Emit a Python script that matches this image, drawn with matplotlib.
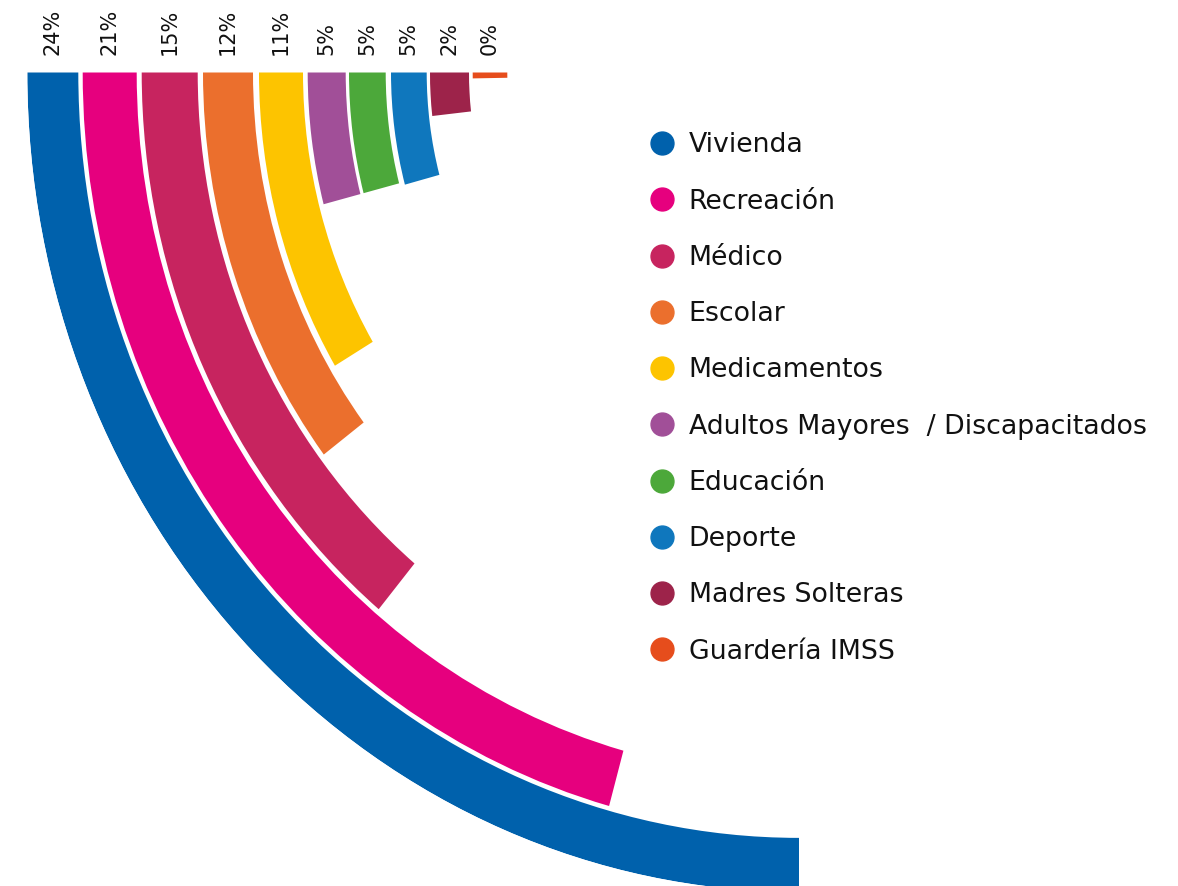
import numpy as np
import matplotlib
matplotlib.use("Agg")
import matplotlib.pyplot as plt
from matplotlib.lines import Line2D

# ---------------- data ----------------
categories = ["Vivienda", "Recreación", "Médico", "Escolar", "Medicamentos",
              "Adultos Mayores  / Discapacitados", "Educación", "Deporte",
              "Madres Solteras", "Guardería IMSS"]
share_labels = ["24%", "21%", "15%", "12%", "11%", "5%", "5%", "5%", "2%", "0%"]
# sweep of each arc in % units (24 % = a quarter turn)
arc_values = [24.0, 19.9, 13.4, 9.9, 8.2, 3.9, 3.9, 4.0, 1.7, 0.26]
colors = ["#0061AC", "#E6007E", "#C7245F", "#EB6F2D", "#FDC400",
          "#A14F98", "#4CA83A", "#0F77BD", "#9D234A", "#E64D1C"]

# ---------------- layout ----------------
ring_inner = np.array([720.7, 662.3, 601.3, 546.0, 496.0, 453.3, 413.3, 372.3, 330.0, 291.7])
ring_outer = np.array([771.7, 716.3, 657.3, 596.0, 540.0, 491.3, 450.0, 408.0, 369.0, 326.3])

W, H, DPI = 1178, 886, 100
cx, cy = 799.0, 72.5          # centre of the rings (pixels, from top-left)
R = ring_outer.max()
stretch = 1.062               # vertical stretch of the rings

fig = plt.figure(figsize=(W / DPI, H / DPI), dpi=DPI)
fig.patch.set_facecolor("white")

ax = fig.add_axes([(cx - R) / W, (H - cy - R * stretch) / H,
                   2 * R / W, 2 * R * stretch / H], projection="polar")
ax.set_aspect("auto")
ax.set_theta_zero_location("W")
ax.set_theta_direction(1)
ax.set_ylim(0, R)

scale = (np.pi / 2) / 24.0
ax.bar(x=0, height=ring_outer - ring_inner, width=np.array(arc_values) * scale,
       bottom=ring_inner, align="edge", color=colors, linewidth=0)
ax.axis("off")

for lab, ri, ro in zip(share_labels, ring_inner, ring_outer):
    ax.annotate(lab, xy=(0, (ri + ro) / 2), xytext=(0, 17.5 * 72 / DPI),
                textcoords="offset points", rotation=90, ha="center",
                va="bottom", fontsize=15, color="#111111",
                annotation_clip=False)

handles = [Line2D([0], [0], marker="o", linestyle="none", markersize=16.5,
                  markerfacecolor=c, markeredgecolor=c) for c in colors]
leg = fig.legend(handles, categories, loc="upper left",
                 bbox_to_anchor=(650 / W, 1 - 132.5 / H), frameon=False,
                 fontsize=19.3, handlelength=0.86, handletextpad=0.58,
                 labelspacing=1.128, borderpad=0, borderaxespad=0)
for t in leg.get_texts():
    t.set_color("#111111")

fig.savefig("out.png", dpi=DPI, facecolor="white")
